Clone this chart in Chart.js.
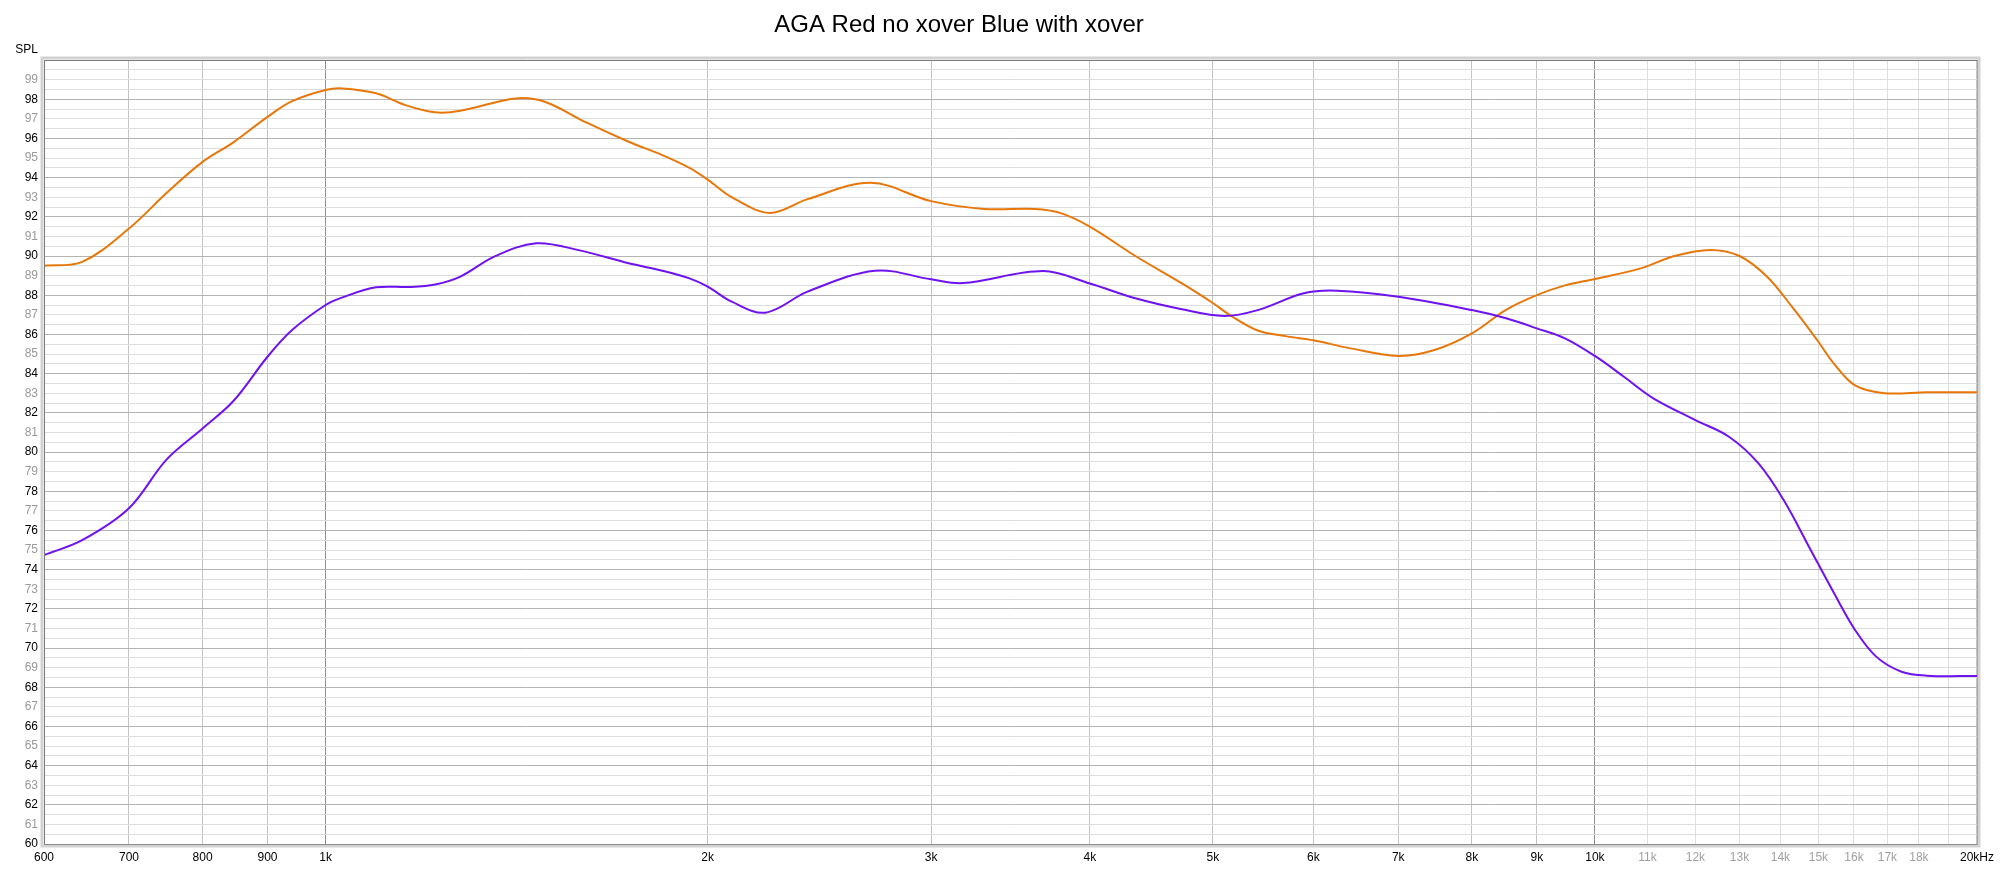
<!DOCTYPE html>
<html>
<head>
<meta charset="utf-8">
<title>AGA Red no xover Blue with xover</title>
<script src="https://cdn.jsdelivr.net/npm/chart.js@4.4.1/dist/chart.umd.min.js"></script>
<style>
  html, body { margin: 0; padding: 0; background: #fff; }
  #wrap { width: 2000px; height: 869px; }
</style>
</head>
<body>
<div id="wrap"><canvas id="splChart" width="2000" height="869"></canvas></div>
<script>
// === Data ===
const chartTitle = 'AGA Red no xover Blue with xover';

// Red trace (no xover) - drawn orange
const redFreq = [600, 643, 700, 749, 800, 846, 900, 941, 1000, 1031, 1096, 1156, 1220, 1277, 1411,
  1488, 1606, 1733, 1842, 1935, 2000, 2089, 2238, 2397, 2688, 3000, 3303, 3620, 3790, 4000, 4345,
  4728, 5000, 5182, 5424, 5719, 6000, 6405, 7000, 7475, 8000, 8511, 9000, 9471, 10000, 10866,
  11550, 12325, 13000, 13662, 14302, 14970, 15433, 16031, 16912, 18253, 20000];
const redSpl = [89.5, 89.7, 91.4, 93.2, 94.8, 95.8, 97.1, 97.9, 98.47, 98.55, 98.3, 97.7, 97.33, 97.41, 98.04,
  97.87, 96.8, 95.83, 95.15, 94.5, 93.9, 93.0, 92.2, 92.9, 93.74, 92.8, 92.4, 92.4, 92.2, 91.5, 90.0,
  88.6, 87.6, 86.9, 86.2, 85.9, 85.7, 85.3, 84.9, 85.2, 86.05, 87.25, 88.0, 88.5, 88.83, 89.37,
  90.0, 90.31, 90.0, 88.95, 87.4, 85.7, 84.5, 83.4, 83.0, 83.05, 83.05];

// Blue trace (with xover) - drawn violet
const blueFreq = [600, 643, 700, 749, 800, 846, 900, 941, 1000, 1031, 1096, 1165, 1220, 1277, 1358,
  1465, 1582, 1733, 1842, 1935, 2000, 2089, 2221, 2397, 2709, 3000, 3178, 3676, 4000, 4345,
  4728, 5103, 5424, 5898, 6268, 7000, 8000, 8511, 9000, 9471, 10000, 10540, 11118, 12000,
  12753, 13455, 14084, 14745, 15433, 16031, 16657, 17440, 18253, 20000];
const blueSpl = [74.74, 75.5, 77.13, 79.6, 81.2, 82.6, 84.86, 86.22, 87.5, 87.89, 88.4, 88.42, 88.55, 88.95, 89.97,
  90.65, 90.3, 89.63, 89.25, 88.86, 88.44, 87.67, 87.11, 88.18, 89.25, 88.81, 88.62, 89.23, 88.6, 87.84,
  87.28, 86.94, 87.24, 88.1, 88.23, 87.92, 87.24, 86.82, 86.31, 85.8, 84.9, 83.84, 82.74, 81.63,
  80.78, 79.42, 77.55, 75.17, 72.79, 70.92, 69.56, 68.79, 68.59, 68.57];

// X axis ticks + labels
const xTicks = [600, 700, 800, 900, 1000, 2000, 3000, 4000, 5000, 6000, 7000, 8000, 9000, 10000,
  11000, 12000, 13000, 14000, 15000, 16000, 17000, 18000, 19000, 20000];
const xTickLabels = ['600', '700', '800', '900', '1k', '2k', '3k', '4k', '5k', '6k', '7k', '8k', '9k', '10k',
  '11k', '12k', '13k', '14k', '15k', '16k', '17k', '18k', '', '20kHz'];
const xFaintTicks = [11000, 12000, 13000, 14000, 15000, 16000, 17000, 18000, 19000];
const xMajorTicks = [1000, 10000];

const yMin = 60, yMax = 100, yStep = 0.5;

const FONT = '"Liberation Sans", Arial, sans-serif';

// ===== frame, title and SPL caption =====
const framePlugin = {
  id: 'frame',
  afterDraw(chart) {
    const { ctx, chartArea: a } = chart;
    ctx.save();
    // soft bevel round the plot
    ctx.strokeStyle = '#d2d2d2';
    ctx.lineWidth = 3;
    ctx.strokeRect(a.left - 2, a.top - 2, a.right - a.left + 4, a.bottom - a.top + 4);
    ctx.lineWidth = 1;
    ctx.strokeStyle = '#7a7a7a';
    ctx.beginPath();
    ctx.moveTo(a.left + 0.5, a.bottom + 0.5);
    ctx.lineTo(a.left + 0.5, a.top + 0.5);
    ctx.lineTo(a.right + 0.5, a.top + 0.5);
    ctx.stroke();
    ctx.strokeStyle = '#8c8c8c';
    ctx.beginPath();
    ctx.moveTo(a.left, a.bottom + 0.5);
    ctx.lineTo(a.right + 1, a.bottom + 0.5);
    ctx.stroke();
    ctx.strokeStyle = '#a8a8a8';
    ctx.beginPath();
    ctx.moveTo(a.right + 0.5, a.top);
    ctx.lineTo(a.right + 0.5, a.bottom + 1);
    ctx.stroke();

    // title
    ctx.fillStyle = '#000';
    ctx.font = '24px ' + FONT;
    ctx.textAlign = 'center';
    ctx.textBaseline = 'alphabetic';
    ctx.fillText(chartTitle, 959, 32);

    // axis caption
    ctx.font = '12px ' + FONT;
    ctx.textAlign = 'right';
    ctx.textBaseline = 'middle';
    ctx.fillText('SPL', 38, 50);
    ctx.restore();
  }
};

const toPoints = (xs, ys) => xs.map((f, i) => ({ x: f, y: ys[i] }));

// ====== Chart.js ======
const splChart = new Chart(document.getElementById('splChart'), {
  type: 'line',
  data: {
    datasets: [
      {
        label: 'Blue with xover',
        data: toPoints(blueFreq, blueSpl),
        borderColor: '#6f12f0',
        borderWidth: 2,
        pointRadius: 0,
        tension: 0.35,
        fill: false
      },
      {
        label: 'Red no xover',
        data: toPoints(redFreq, redSpl),
        borderColor: '#e8770a',
        borderWidth: 2,
        pointRadius: 0,
        tension: 0.35,
        fill: false
      }
    ]
  },
  options: {
    responsive: false,
    animation: false,
    layout: { padding: { top: 60, right: 22, bottom: 0, left: 0 } },
    plugins: { legend: { display: false }, title: { display: false }, tooltip: { enabled: false } },
    scales: {
      x: {
        type: 'logarithmic',
        min: 600,
        max: 20000,
        afterFit: (scale) => { scale.height = 25; },
        afterBuildTicks: (scale) => { scale.ticks = xTicks.map(v => ({ value: v })); },
        border: { display: false },
        grid: {
          drawTicks: false,
          color: (c) => {
            const v = c.tick && c.tick.value;
            if (xMajorTicks.includes(v)) return '#8f8f8f';
            if (xFaintTicks.includes(v)) return '#dedede';
            return '#c4c4c4';
          }
        },
        ticks: {
          autoSkip: false,
          maxRotation: 0,
          padding: 6,
          font: { family: FONT, size: 12 },
          color: (c) => xFaintTicks.includes(c.tick.value) ? '#a0a0a0' : '#000',
          callback: (value) => {
            const i = xTicks.indexOf(value);
            return i >= 0 ? xTickLabels[i] : '';
          }
        }
      },
      y: {
        min: yMin,
        max: yMax,
        afterFit: (scale) => { scale.width = 44; },
        border: { display: false },
        grid: {
          drawTicks: false,
          color: (c) => {
            const v = c.tick && c.tick.value;
            return (v % 2 === 0) ? '#b4b4b4' : '#dddddd';
          }
        },
        ticks: {
          stepSize: yStep,
          autoSkip: false,
          maxTicksLimit: 200,
          padding: 6,
          font: { family: FONT, size: 12 },
          color: (c) => (c.tick.value % 2 === 0) ? '#000' : '#999',
          callback: (value) => (Number.isInteger(value) && value < yMax) ? String(value) : ''
        }
      }
    }
  },
  plugins: [framePlugin]
});
</script>
</body>
</html>
